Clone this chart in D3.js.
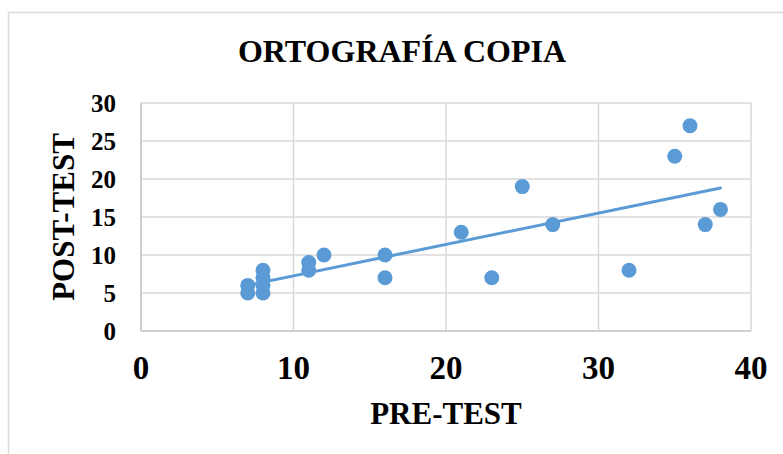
<!DOCTYPE html>
<html lang="es">
  <head>
    <meta charset="UTF-8" />
    <title>Ortografía copia</title>
    <style>
      body {
        margin: 0;
        background: #fff;
      }
      text {
        font-family: 'Liberation Serif', 'Times New Roman', serif;
        font-weight: bold;
        fill: #000;
      }
    </style>
  </head>
  <body>
    <svg id="svg" width="783" height="454"></svg>

    <script src="https://d3js.org/d3.v7.min.js"></script>
    <script>
      // pre-test / post-test scores
      const preTest = [7, 7, 8, 8, 8, 8, 11, 11, 12, 16, 16, 21, 23, 25, 27, 32, 35, 36, 37, 38];
      const postTest = [6, 5, 8, 7, 6, 5, 9, 8, 10, 10, 7, 13, 7, 19, 14, 8, 23, 27, 14, 16];
      const xTicks = [0, 10, 20, 30, 40];
      const yTicks = [0, 5, 10, 15, 20, 25, 30];

      const blue = '#5b9bd5';
      const grid = '#d9d9d9';

      const plotLeft = 141, plotTop = 103, plotW = 610, plotH = 228;

      const svg = d3.select('#svg');

      // chart frame
      svg.append('rect')
        .attr('x', 8.5).attr('y', 12.5)
        .attr('width', 820).attr('height', 500)
        .attr('fill', 'none')
        .attr('stroke', grid)
        .attr('stroke-width', 1.5);

      const x = d3.scaleLinear().domain([0, 40]).range([plotLeft, plotLeft + plotW]);
      const y = d3.scaleLinear().domain([0, 30]).range([plotTop + plotH, plotTop]);

      // gridlines
      svg.append('g')
        .selectAll('line')
        .data(yTicks)
        .join('line')
        .attr('x1', plotLeft).attr('x2', plotLeft + plotW)
        .attr('y1', (d) => y(d)).attr('y2', (d) => y(d))
        .attr('stroke', (d) => (d === 0 ? '#bfbfbf' : grid))
        .attr('stroke-width', 1.5);

      svg.append('g')
        .selectAll('line')
        .data(xTicks)
        .join('line')
        .attr('x1', (d) => x(d)).attr('x2', (d) => x(d))
        .attr('y1', plotTop).attr('y2', plotTop + plotH)
        .attr('stroke', (d) => (d === 0 ? '#bfbfbf' : grid))
        .attr('stroke-width', 1.5);

      // tick labels
      svg.append('g')
        .selectAll('text')
        .data(yTicks)
        .join('text')
        .attr('x', 116)
        .attr('y', (d) => y(d))
        .attr('dy', '0.35em')
        .attr('text-anchor', 'end')
        .style('font-size', '25px')
        .text((d) => d);

      svg.append('g')
        .selectAll('text')
        .data(xTicks)
        .join('text')
        .attr('x', (d) => x(d))
        .attr('y', 379)
        .attr('text-anchor', 'middle')
        .style('font-size', '33px')
        .text((d) => d);

      // linear trendline (least squares)
      const n = preTest.length;
      const mx = d3.mean(preTest), my = d3.mean(postTest);
      let sxy = 0, sxx = 0;
      for (let i = 0; i < n; i++) {
        sxy += (preTest[i] - mx) * (postTest[i] - my);
        sxx += (preTest[i] - mx) * (preTest[i] - mx);
      }
      const slope = sxy / sxx;
      const icpt = my - slope * mx;
      const x0 = d3.min(preTest), x1 = d3.max(preTest);

      svg.append('line')
        .attr('x1', x(x0)).attr('y1', y(icpt + slope * x0))
        .attr('x2', x(x1)).attr('y2', y(icpt + slope * x1))
        .attr('stroke', blue)
        .attr('stroke-width', 3)
        .attr('stroke-linecap', 'round');

      // points
      svg.append('g')
        .selectAll('circle')
        .data(preTest.map((d, i) => [d, postTest[i]]))
        .join('circle')
        .attr('cx', (d) => x(d[0]))
        .attr('cy', (d) => y(d[1]))
        .attr('r', 7.5)
        .attr('fill', blue);

      // titles
      svg.append('text')
        .attr('x', 402).attr('y', 62)
        .attr('text-anchor', 'middle')
        .style('font-size', '32px')
        .text('ORTOGRAFÍA COPIA');

      svg.append('text')
        .attr('x', plotLeft + plotW / 2).attr('y', 424)
        .attr('text-anchor', 'middle')
        .style('font-size', '31px')
        .text('PRE-TEST');

      svg.append('text')
        .attr('transform', `translate(74,${plotTop + plotH / 2}) rotate(-90)`)
        .attr('text-anchor', 'middle')
        .style('font-size', '31px')
        .text('POST-TEST');
    </script>
  </body>
</html>
